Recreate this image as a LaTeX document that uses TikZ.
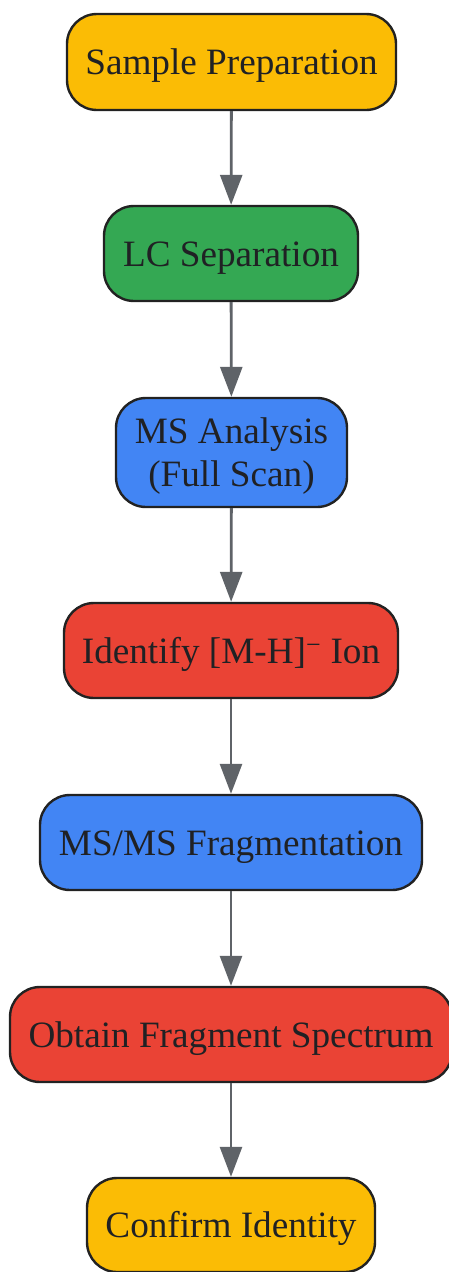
\documentclass[tikz,border=0pt]{standalone}
\usepackage{fontspec}
\setmainfont{Liberation Serif}
\usetikzlibrary{arrows.meta}
\definecolor{gyellow}{HTML}{FBBC05}
\definecolor{ggreen}{HTML}{34A853}
\definecolor{gblue}{HTML}{4285F4}
\definecolor{gred}{HTML}{EA4335}
\definecolor{bordercol}{HTML}{222222}
\definecolor{txtcol}{HTML}{202124}
\definecolor{arrowcol}{HTML}{5F6368}
\begin{document}
\begin{tikzpicture}[x=1pt,y=-1pt,
  box/.style={draw=bordercol, line width=2.4pt, rounded corners=30pt, inner sep=0pt,
    text height=30pt, text depth=5pt,
    text=txtcol, align=center, font=\fontsize{37.2}{43}\selectfont},
  conn/.style={draw=arrowcol, line width=2.8pt, -{Triangle[length=30pt,width=22pt]}}]
\useasboundingbox (0,0) rectangle (448,1272);
\node[box, fill=gyellow, minimum width=329pt, minimum height=96pt] (n1) at (231.5,62) {Sample Preparation};
\node[box, fill=ggreen, minimum width=254pt, minimum height=95pt] (n2) at (231,253.5) {LC Separation};
\node[box, fill=gblue, minimum width=231pt, minimum height=109pt, text height=73pt, text depth=5pt] (n3) at (231.5,452.5) {MS Analysis\\(Full Scan)};
\node[box, fill=gred, minimum width=334pt, minimum height=95pt] (n4) at (231,650.5) {Identify [M-H]\textsuperscript{−} Ion};
\node[box, fill=gblue, minimum width=382pt, minimum height=95pt] (n5) at (231,842.5) {MS/MS Fragmentation};
\node[box, fill=gred, minimum width=442pt, minimum height=95pt] (n6) at (231,1034.5) {Obtain Fragment Spectrum};
\node[box, fill=gyellow, minimum width=288pt, minimum height=94pt] (n7) at (231,1225) {Confirm Identity};
\draw[conn] (n1) -- (n2);
\draw[conn] (n2) -- (n3);
\draw[conn] (n3) -- (n4);
\draw[conn] (n4) -- (n5);
\draw[conn] (n5) -- (n6);
\draw[conn] (n6) -- (n7);
\end{tikzpicture}
\end{document}
